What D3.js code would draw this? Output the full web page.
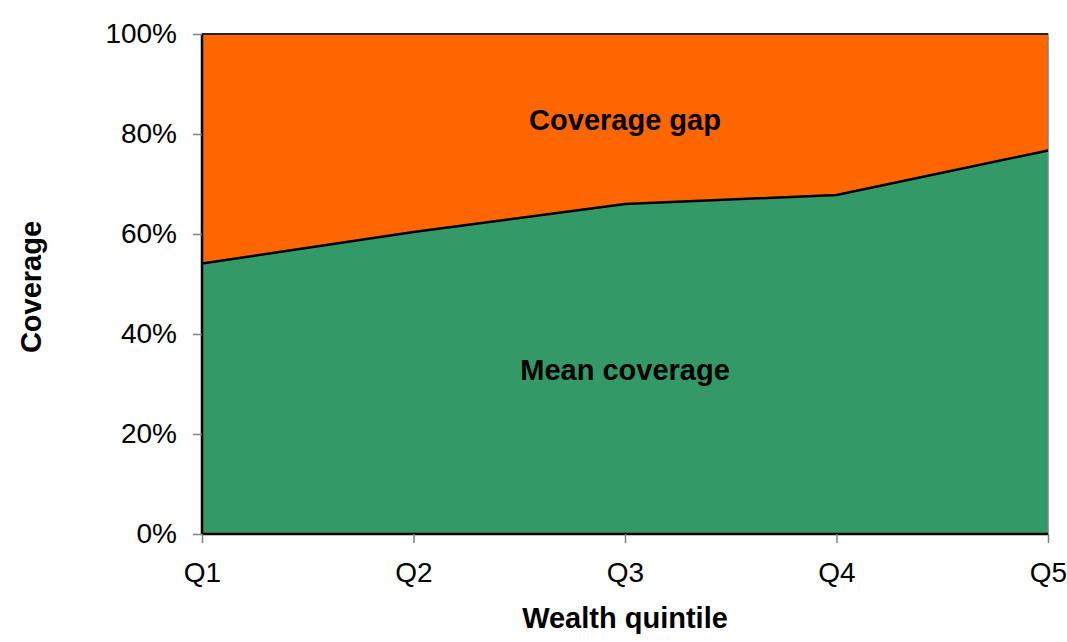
<!DOCTYPE html>
<html>
<head>
<meta charset="utf-8">
<script src="https://cdn.jsdelivr.net/npm/d3@7"></script>
<style>
  body { margin: 0; background: #fff; }
  text { font-family: "Liberation Sans", Arial, sans-serif; }
</style>
</head>
<body>
<div id="viz-container"></div>
<script>
// data
let quintiles = ["Q1", "Q2", "Q3", "Q4", "Q5"];
let meanCoverage = [0.541, 0.604, 0.660, 0.678, 0.767];
let yTicks = [0, 0.2, 0.4, 0.6, 0.8, 1.0];

let vizWidth = 1067;
let vizHeight = 642;
let margin = {top: 34, right: 19, bottom: 108, left: 202};

let viz = d3.select("#viz-container")
    .append("svg")
        .attr("width", vizWidth)
        .attr("height", vizHeight);

let x = d3.scalePoint()
    .domain(quintiles)
    .range([margin.left, vizWidth - margin.right]);

let y = d3.scaleLinear()
    .domain([0, 1])
    .range([vizHeight - margin.bottom, margin.top]);

let rows = quintiles.map((q, i) => ({q: q, v: meanCoverage[i]}));

// coverage gap (top area)
let gapArea = d3.area()
    .x(d => x(d.q))
    .y0(d => y(d.v))
    .y1(y(1));

let meanArea = d3.area()
    .x(d => x(d.q))
    .y0(y(0))
    .y1(d => y(d.v));

viz.append("path")
    .datum(rows)
    .attr("d", gapArea)
    .attr("fill", "#ff6600");

viz.append("path")
    .datum(rows)
    .attr("d", meanArea)
    .attr("fill", "#339966");

// plot border
viz.append("rect")
    .attr("x", x("Q1"))
    .attr("y", y(1))
    .attr("width", x("Q5") - x("Q1"))
    .attr("height", y(0) - y(1))
    .attr("fill", "none")
    .attr("stroke", "#808080")
    .attr("stroke-width", 1.5);

// series outlines
viz.append("path")
    .datum(rows)
    .attr("d", d3.line().x(d => x(d.q)).y(d => y(d.v)))
    .attr("fill", "none")
    .attr("stroke", "#000")
    .attr("stroke-width", 2.5);

viz.append("line")
    .attr("x1", x("Q1")).attr("x2", x("Q1"))
    .attr("y1", y(0)).attr("y2", y(1))
    .attr("stroke", "#000").attr("stroke-width", 2.5);

viz.append("line")
    .attr("x1", x("Q1")).attr("x2", x("Q5"))
    .attr("y1", y(0)).attr("y2", y(0))
    .attr("stroke", "#000").attr("stroke-width", 2.5);

viz.append("line")
    .attr("x1", x("Q1")).attr("x2", x("Q5"))
    .attr("y1", y(1)).attr("y2", y(1))
    .attr("stroke", "#000").attr("stroke-width", 1.5);

// y axis
let yAxis = viz.append("g")
    .attr("transform", "translate(" + margin.left + ",0)")
    .call(d3.axisLeft(y).tickValues(yTicks).tickFormat(d3.format(".0%")).tickSize(9).tickPadding(16));

// x axis
let xAxis = viz.append("g")
    .attr("transform", "translate(0," + y(0) + ")")
    .call(d3.axisBottom(x).tickSize(9).tickPadding(19));

[yAxis, xAxis].forEach(a => {
    a.select(".domain").remove();
    a.selectAll(".tick line").attr("stroke", "#808080").attr("stroke-width", 1.5);
    a.selectAll(".tick text")
        .attr("fill", "#000")
        .style("font-size", "28px")
        .style("font-family", "'Liberation Sans', Arial, sans-serif");
});

// axis titles
viz.append("text")
    .attr("x", (x("Q1") + x("Q5")) / 2)
    .attr("y", 628)
    .attr("text-anchor", "middle")
    .style("font-size", "29px")
    .style("font-weight", "bold")
    .text("Wealth quintile");

viz.append("text")
    .attr("transform", "translate(41," + 287 + ") rotate(-90)")
    .attr("text-anchor", "middle")
    .style("font-size", "29px")
    .style("font-weight", "bold")
    .text("Coverage");

// series labels
viz.append("text")
    .attr("x", x("Q3"))
    .attr("y", 130)
    .attr("text-anchor", "middle")
    .style("font-size", "29px")
    .style("font-weight", "bold")
    .text("Coverage gap");

viz.append("text")
    .attr("x", x("Q3"))
    .attr("y", 380)
    .attr("text-anchor", "middle")
    .style("font-size", "29px")
    .style("font-weight", "bold")
    .text("Mean coverage");
</script>
</body>
</html>
